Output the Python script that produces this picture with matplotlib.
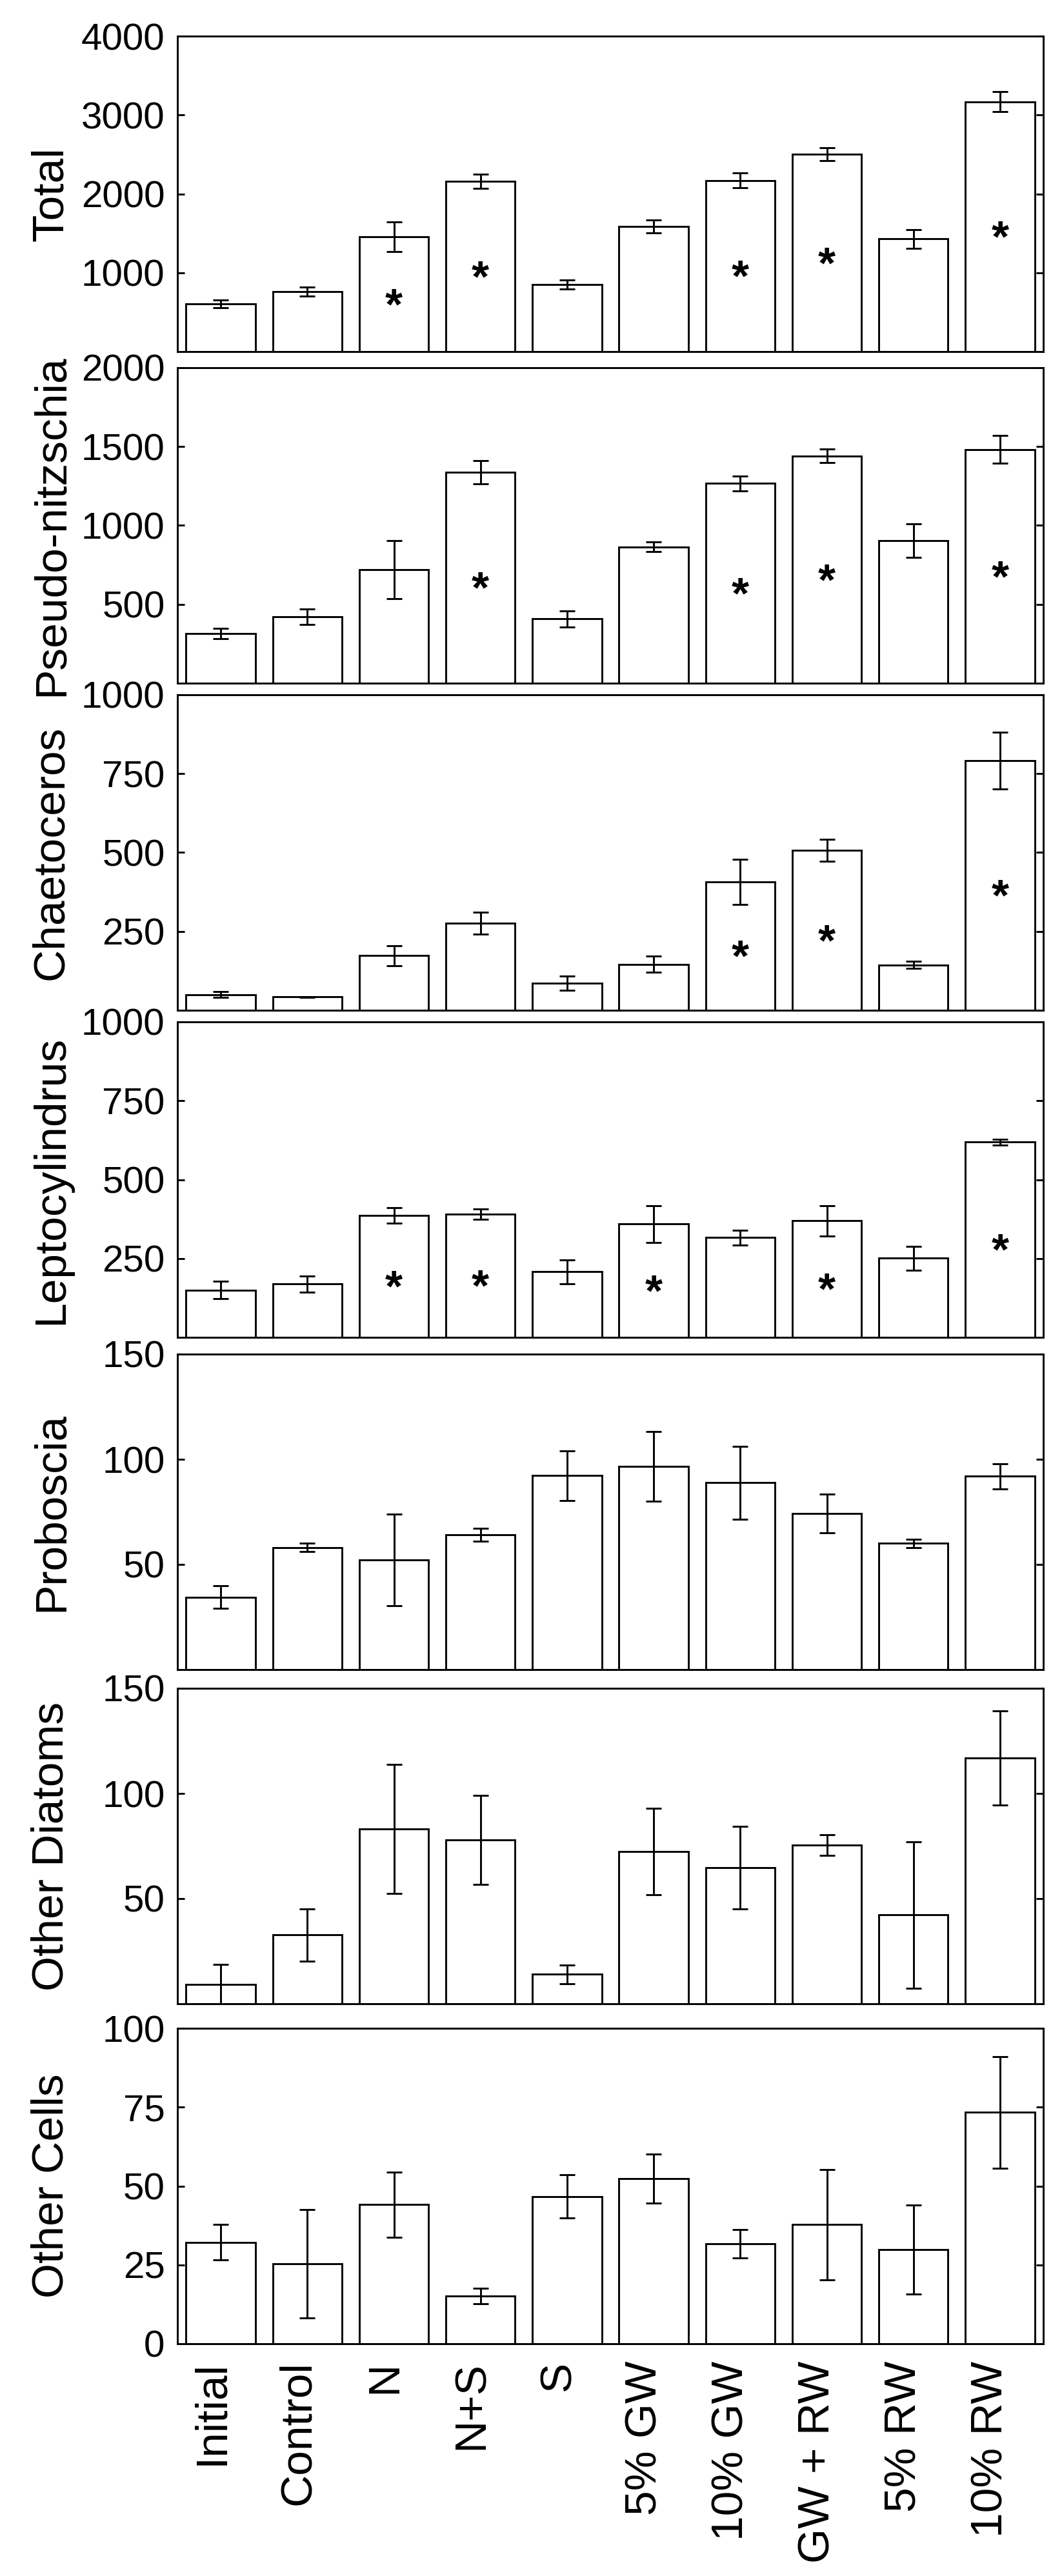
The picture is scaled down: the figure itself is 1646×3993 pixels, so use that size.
import matplotlib
matplotlib.use('Agg')
import matplotlib.pyplot as plt
import matplotlib.transforms as mtransforms
import numpy as np

plt.rcParams['font.family'] = ['Liberation Sans', 'DejaVu Sans']

# ---------------- data ----------------
categories = ['Initial', 'Control', 'N', 'N+S', 'S', '5% GW', '10% GW',
              'GW + RW', '5% RW', '10% RW']

total = [603, 758, 1455, 2157, 851, 1589, 2169, 2504, 1429, 3169]
total_err = [48, 58, 190, 90, 60, 80, 95, 80, 120, 130]
total_sig = [0, 0, 1, 1, 0, 0, 1, 1, 0, 1]

pseudo = [315, 422, 720, 1337, 407, 865, 1266, 1441, 905, 1482]
pseudo_err = [33, 48, 185, 75, 50, 32, 46, 43, 107, 87]
pseudo_sig = [0, 0, 0, 1, 0, 0, 1, 1, 0, 1]

chaet = [50, 42, 173, 276, 86, 146, 407, 507, 144, 792]
chaet_err = [9, 1, 31, 35, 22, 26, 72, 34, 12, 90]
chaet_sig = [0, 0, 0, 0, 0, 0, 1, 1, 0, 1]

lepto = [150, 169, 386, 391, 208, 359, 316, 370, 251, 619]
lepto_err = [28, 25, 25, 16, 38, 58, 24, 48, 38, 9]
lepto_sig = [0, 0, 1, 1, 0, 1, 0, 1, 0, 1]

prob = [34.5, 58.0, 52.1, 64.2, 92.2, 96.7, 88.9, 74.3, 60.0, 91.9]
prob_err = [5.3, 2.0, 21.8, 3.1, 11.8, 16.6, 17.3, 9.2, 2.0, 6.0]
prob_sig = [0] * 10

odiat = [9.3, 32.7, 83.1, 78.0, 14.0, 72.4, 64.7, 75.5, 42.2, 116.9]
odiat_err = [9.3, 12.4, 30.7, 21.2, 4.4, 20.5, 19.6, 4.8, 34.7, 22.3]
odiat_sig = [0] * 10

ocells = [32.2, 25.3, 44.1, 15.1, 46.7, 52.3, 31.7, 37.8, 29.8, 73.4]
ocells_err = [5.6, 17.2, 10.3, 2.5, 6.8, 7.8, 4.4, 17.5, 14.1, 17.7]
ocells_sig = [0] * 10

panel_names = ['Total', 'Pseudo-nitzschia', 'Chaetoceros', 'Leptocylindrus',
               'Proboscia', 'Other Diatoms', 'Other Cells']
panel_vals = [total, pseudo, chaet, lepto, prob, odiat, ocells]
panel_errs = [total_err, pseudo_err, chaet_err, lepto_err, prob_err, odiat_err, ocells_err]
panel_sigs = [total_sig, pseudo_sig, chaet_sig, lepto_sig, prob_sig, odiat_sig, ocells_sig]
panel_ymax = [4000, 2000, 1000, 1000, 150, 150, 100]
panel_ticks = [[1000, 2000, 3000, 4000],
               [500, 1000, 1500, 2000],
               [250, 500, 750, 1000],
               [250, 500, 750, 1000],
               [50, 100, 150],
               [50, 100, 150],
               [0, 25, 50, 75, 100]]

# ---------------- layout ----------------
W, H = 1646, 3993
left_px, right_px = 275, 1617
tops_px = [56, 570, 1077, 1584, 2099, 2617, 3144]
height_px = 489

fig = plt.figure(figsize=(W / 100, H / 100), dpi=100)
x = np.arange(1, len(categories) + 1)
lw = 2.1
star_fs = 50

for i, name in enumerate(panel_names):
    ax = fig.add_axes([left_px / W, 1 - (tops_px[i] + height_px) / H,
                       (right_px - left_px) / W, height_px / H])
    vals = panel_vals[i]
    errs = panel_errs[i]
    ax.bar(x, vals, width=0.8, color='white', edgecolor='black',
           linewidth=lw, zorder=2)
    ax.errorbar(x, vals, yerr=errs, fmt='none', ecolor='black',
                elinewidth=lw, capsize=8.3, capthick=lw, zorder=3)
    for xi, v, s in zip(x, vals, panel_sigs[i]):
        if s:
            ax.annotate('*', xy=(xi, 0.5 * v), xytext=(0, -0.55 * star_fs),
                        textcoords='offset points', ha='center',
                        va='baseline', fontsize=star_fs, fontweight='bold',
                        zorder=4)
    ax.set_xlim(0.5, 10.5)
    ax.set_ylim(0, panel_ymax[i])
    ax.set_yticks(panel_ticks[i])
    ax.tick_params(axis='y', direction='in', length=7.7, width=lw,
                   right=True, labelsize=42, pad=14)
    ax.tick_params(axis='x', length=0)
    for sp in ax.spines.values():
        sp.set_linewidth(lw)
    ax.set_ylabel(name, fontsize=50)
    ax.yaxis.set_label_coords(-0.122, 0.5)
    if i == len(panel_names) - 1:
        ax.set_xticks(x)
        ax.set_xticklabels(categories, rotation=90, fontsize=50)
        ax.tick_params(axis='x', pad=19)
        off = mtransforms.ScaledTranslation(-0.14, 0, fig.dpi_scale_trans)
        for lab in ax.get_xticklabels():
            lab.set_transform(lab.get_transform() + off)
    else:
        ax.set_xticks([])

fig.savefig('out.png', dpi=100, facecolor='white')
